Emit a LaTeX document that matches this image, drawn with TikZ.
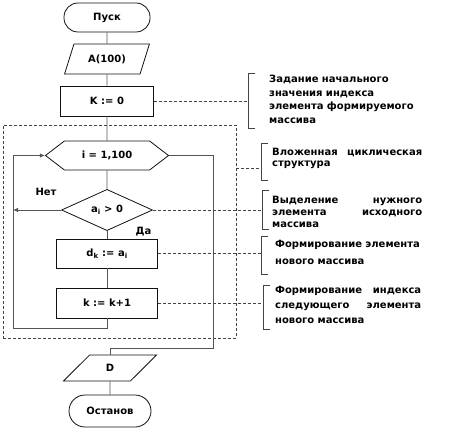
\documentclass[tikz,border=0pt]{standalone}
\usepackage{fontspec}
\setmainfont{DejaVu Sans}
\usepackage{tikz}
\usetikzlibrary{arrows.meta,shapes.geometric,shapes.symbols}
\definecolor{ink}{HTML}{111111}
\definecolor{wire}{HTML}{555555}
\definecolor{notegray}{HTML}{444444}

\begin{document}
\begin{tikzpicture}[x=1pt, y=-1pt, >={Latex[length=5pt,width=4.5pt]},
  block/.style={draw=ink, line width=0.8pt, inner sep=0pt, font=\bfseries\fontsize{10}{12}\selectfont},
  term/.style={block, rectangle, rounded corners=14pt},
  proc/.style={block, rectangle},
  io/.style={block, trapezium, trapezium stretches=true},
  cycle/.style={block, signal, signal to=east and west, signal pointer angle=75},
  test/.style={block, diamond},
  flow/.style={wire, line width=0.8pt},
  link/.style={notegray, line width=0.7pt, dash pattern=on 3pt off 2pt},
  brace/.style={notegray, line width=0.8pt},
  note/.style={inner sep=0pt, anchor=base west, align=left, text width=170pt,
    font=\bfseries\fontsize{10}{#1}\selectfont},
  note/.default=13,
  answer/.style={inner sep=0pt, font=\bfseries\fontsize{10}{12}\selectfont}]
  \useasboundingbox (0,0) rectangle (462,430);

  % frame of the nested loop
  \node[link, draw, minimum width=233pt, minimum height=213pt, inner sep=0pt] (nest) at (119.5,231.5) {};

  % main column
  \node[term, minimum width=86pt, minimum height=29pt] (start) at (107,17.5) {Пуск};
  \node[io, trapezium left angle=59, trapezium right angle=121,
        minimum width=85pt, minimum height=30pt] (input) at (107,59) {A(100)};
  \node[proc, minimum width=93pt, minimum height=30pt] (kzero) at (107,101) {K := 0};
  \node[cycle, minimum width=123pt, minimum height=29pt] (cyc) at (107,155.5) {i = 1,100};
  \node[test, minimum width=91pt, minimum height=38pt] (cond) at (107,210) {a\textsubscript{i} > 0};
  \node[proc, minimum width=101pt, minimum height=29pt] (dk) at (107,253.5)
    {d\textsubscript{k} := a\textsubscript{i}};
  \node[proc, minimum width=101pt, minimum height=30pt] (kinc) at (107,303) {k := k+1};
  \node[io, trapezium left angle=54, trapezium right angle=126,
        minimum width=93pt, minimum height=26pt] (dout) at (110,368) {D};
  \node[term, rounded corners=16pt, minimum width=82pt, minimum height=32pt] (stop) at (110,411) {Останов};

  \node[answer] (no) at (46,192) {Нет};
  \node[answer] (yes) at (143.5,232) {Да};

  \coordinate (back) at (13,328);
  \coordinate (exit) at (213,348);

  \draw[flow] (start) -- (input);
  \draw[flow] (input) -- (kzero);
  \draw[flow] (kzero) -- (cyc);
  \draw[flow] (cyc) -- (cond);
  \draw[flow] (cond) -- (dk);
  \draw[flow] (dk) -- (kinc);
  \draw[flow] (dout) -- (stop);
  \draw[flow, ->] (kinc.south) |- (back) |- (cyc.west);
  \draw[flow, ->] (cond.west) -- (cond.west -| back);
  \draw[flow] (cyc.east) -| (exit) -| (dout.north);

  % comments on the right
  \coordinate (b1) at (248,103);
  \coordinate (b2) at (261,168);
  \coordinate (b3) at (262,211);
  \coordinate (b4) at (261,255);
  \coordinate (b5) at (263,308);
  \draw[link] (kzero.east) -- (kzero.east -| b1);
  \draw[link] (b2 -| nest.east) -- (b2);
  \draw[link] (cond.east) -- (cond.east -| b3);
  \draw[link] (dk.east) -- (dk.east -| b4);
  \draw[link] (kinc.east) -- (kinc.east -| b5);
  \draw[brace] (255,73) -| (248,128) -- (255,128);
  \draw[brace] (268,143) -| (261,180) -- (268,180);
  \draw[brace] (269,190) -| (262,229) -- (269,229);
  \draw[brace] (268,236) -| (261,274) -- (268,274);
  \draw[brace] (270,285) -| (263,329) -- (270,329);

  \node[note=13.5] (n1) at (269,83)
    {Задание начального\\значения индекса\\элемента формируемого\\массива};
  \node[note=10.5] (n2) at (272,156)
    {\makebox[150pt][l]{Вложенная\hfill циклическая}\\структура};
  \node[note=12] (n3) at (272,204)
    {\makebox[150pt][l]{Выделение\hfill нужного}\\\makebox[150pt][l]{элемента\hfill исходного}\\массива};
  \node[note=17] (n4) at (275,247)
    {Формирование элемента\\нового массива};
  \node[note=15] (n5) at (275,293)
    {\makebox[146pt][l]{Формирование\hfill индекса}\\\makebox[146pt][l]{следующего\hfill элемента}\\нового массива};
\end{tikzpicture}
\end{document}
